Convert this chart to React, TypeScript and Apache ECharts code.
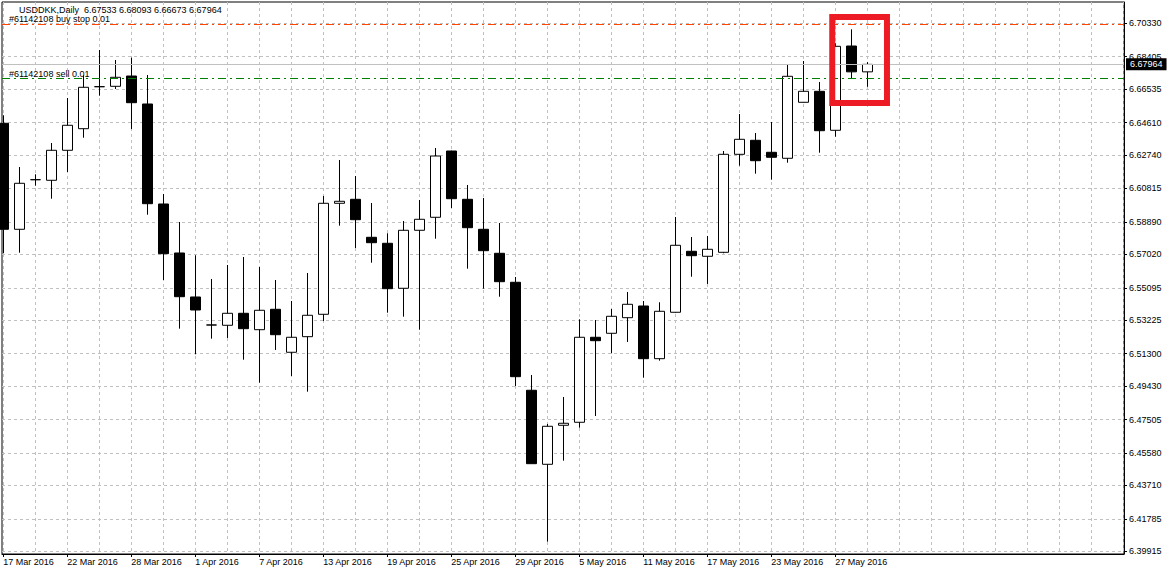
import React, { useEffect, useRef } from 'react';
import * as echarts from 'echarts';

const symbolName = 'USDDKK';
const periodName = 'Daily';

const dates = [
  '17 Mar 2016', '18 Mar 2016', '20 Mar 2016', '21 Mar 2016', '22 Mar 2016', '23 Mar 2016', '24 Mar 2016', '27 Mar 2016',
  '28 Mar 2016', '29 Mar 2016', '30 Mar 2016', '31 Mar 2016', '1 Apr 2016', '4 Apr 2016', '5 Apr 2016', '6 Apr 2016',
  '7 Apr 2016', '8 Apr 2016', '11 Apr 2016', '12 Apr 2016', '13 Apr 2016', '14 Apr 2016', '15 Apr 2016', '18 Apr 2016',
  '19 Apr 2016', '20 Apr 2016', '21 Apr 2016', '22 Apr 2016', '25 Apr 2016', '26 Apr 2016', '27 Apr 2016', '28 Apr 2016',
  '29 Apr 2016', '2 May 2016', '3 May 2016', '4 May 2016', '5 May 2016', '6 May 2016', '9 May 2016', '10 May 2016',
  '11 May 2016', '12 May 2016', '13 May 2016', '16 May 2016', '17 May 2016', '18 May 2016', '19 May 2016', '20 May 2016',
  '23 May 2016', '24 May 2016', '25 May 2016', '26 May 2016', '27 May 2016', '30 May 2016', '31 May 2016',
];

const opens = [
  6.64570, 6.58464, 6.61321, 6.61287, 6.63015, 6.64259, 6.66678, 6.66701, 6.67294, 6.65682,
  6.59922, 6.57099, 6.54565, 6.52952, 6.52935, 6.53626, 6.52681, 6.53856, 6.51380, 6.52278,
  6.53568, 6.59962, 6.60192, 6.58004, 6.57658, 6.55066, 6.58407, 6.59156, 6.62974, 6.60192,
  6.58464, 6.57082, 6.55412, 6.49191, 6.44928, 6.47175, 6.47348, 6.52244, 6.52474, 6.53372,
  6.54046, 6.51011, 6.53684, 6.57197, 6.56909, 6.57139, 6.62784, 6.63591, 6.62900, 6.62554,
  6.65780, 6.66413, 6.64167, 6.69022, 6.67533,
];
const closes = [
  6.58464, 6.61114, 6.61321, 6.63015, 6.64455, 6.66644, 6.66678, 6.67220, 6.65757, 6.59939,
  6.57059, 6.54582, 6.53816, 6.52952, 6.53626, 6.52739, 6.53799, 6.52393, 6.52244, 6.53511,
  6.59962, 6.60077, 6.59017, 6.57692, 6.55043, 6.58407, 6.59040, 6.62686, 6.60227, 6.58556,
  6.57232, 6.55446, 6.49974, 6.44963, 6.47117, 6.47290, 6.52244, 6.52048, 6.53453, 6.54144,
  6.51011, 6.53741, 6.57543, 6.56944, 6.57312, 6.62784, 6.63648, 6.62416, 6.62612, 6.67277,
  6.66413, 6.64144, 6.69005, 6.67533, 6.67964,
];
const highs = [
  6.65031, 6.62053, 6.61632, 6.63435, 6.66027, 6.67335, 6.68792, 6.68216, 6.68348, 6.67352,
  6.60498, 6.58885, 6.56967, 6.55602, 6.56408, 6.56869, 6.56293, 6.55544, 6.54334, 6.55947,
  6.60382, 6.62456, 6.61534, 6.59979, 6.58234, 6.58942, 6.60152, 6.63147, 6.62990, 6.61016,
  6.60267, 6.58827, 6.55717, 6.50072, 6.47250, 6.48805, 6.53280, 6.53240, 6.53874, 6.54853,
  6.54334, 6.54260, 6.59173, 6.58021, 6.58078, 6.62974, 6.65106, 6.64011, 6.64645, 6.67928,
  6.68158, 6.66949, 6.69178, 6.69984, 6.68093,
];
const lows = [
  6.57082, 6.57116, 6.60976, 6.60227, 6.61765, 6.63740, 6.66160, 6.66546, 6.64242, 6.59305,
  6.55544, 6.52739, 6.51264, 6.52163, 6.52203, 6.50953, 6.49628, 6.51512, 6.50014, 6.49110,
  6.53182, 6.58672, 6.57387, 6.56540, 6.53660, 6.53430, 6.52681, 6.57923, 6.59691, 6.56195,
  6.55043, 6.54582, 6.49438, 6.44950, 6.40470, 6.45136, 6.47036, 6.47710, 6.51322, 6.51973,
  6.49916, 6.50896, 6.53660, 6.55734, 6.55314, 6.57082, 6.62128, 6.61667, 6.61321, 6.62300,
  6.65760, 6.62876, 6.63798, 6.67162, 6.66673,
];

const yTicks = [
  6.70330, 6.68405, 6.66535, 6.64610, 6.62740, 6.60815, 6.58890, 6.57020, 6.55095,
  6.53225, 6.51300, 6.49430, 6.47505, 6.45580, 6.43710, 6.41785, 6.39915,
];

const orderId = '#61142108';
const buyStopPrice = 6.70300;
const buyStopText = orderId + ' buy stop 0.01';
const sellPrice = 6.67162;
const sellText = orderId + ' sell 0.01';

// highlighted region (bar index range, price range)
const highlightX = [51.81, 55.23];
const highlightY = [6.70693, 6.65739];

const X_MIN = -0.08125;
const X_MAX = 70.04375;
const Y_MIN = 6.3976;
const Y_MAX = 6.71557;
const FONT = '"Liberation Sans", Arial, sans-serif';

export default function App() {
  const ref = useRef<HTMLDivElement>(null);
  useEffect(() => {
    document.body.style.margin = '0';
    if (!ref.current) return;
    const chart = echarts.init(ref.current, null, { renderer: 'svg' });
    const last = opens.length - 1;
    const bid = closes[last];
    const title = `${symbolName},${periodName}  ${opens[last].toFixed(5)} ${highs[last].toFixed(5)} ${lows[last].toFixed(5)} ${closes[last].toFixed(5)}`;
    const labelIdx = dates.map((_, i) => i).filter((i) => i % 4 === 0);
    const gridXs: number[] = [];
    for (let i = 0; i <= 70; i += 2) gridXs.push(i);
    const candleData = opens.map((o, i) => [i, o, closes[i], lows[i], highs[i]]);
    const gridLine = { show: true, lineStyle: { color: '#c0c0c0', type: [3, 3] as any, width: 1 } };
    const orderLabel = (text: string) => ({
      show: true,
      position: 'insideStartTop',
      formatter: text,
      color: '#000',
      fontSize: 9,
      fontFamily: FONT,
      lineHeight: 9,
      distance: [7, 0],
    });

    chart.setOption({
      animation: false,
      backgroundColor: '#ffffff',
      grid: { left: 2, right: 43, top: 2, bottom: 21, show: true, borderColor: '#000', borderWidth: 1, backgroundColor: 'transparent' },
      graphic: [
        {
          type: 'text',
          x: 19,
          y: 10.2,
          z: 100,
          style: { text: title, fill: '#000', fontSize: 9, lineHeight: 9, fontFamily: FONT, verticalAlign: 'middle', align: 'left' },
        },
      ],
      xAxis: [
        {
          type: 'value',
          min: X_MIN,
          max: X_MAX,
          position: 'top',
          axisLine: { show: false },
          axisTick: { show: false, customValues: gridXs },
          axisLabel: { show: false },
          splitLine: gridLine,
        },
        {
          type: 'value',
          min: X_MIN,
          max: X_MAX,
          position: 'bottom',
          axisLine: { show: true, onZero: false, lineStyle: { color: '#000', width: 1 } },
          axisTick: { show: true, customValues: labelIdx, length: 3, lineStyle: { color: '#000' } },
          axisLabel: {
            customValues: labelIdx,
            formatter: (v: number) => dates[Math.round(v)] ?? '',
            align: 'left',
            margin: 3,
            color: '#000',
            fontSize: 9,
            fontFamily: FONT,
          },
          splitLine: { show: false },
        },
      ],
      yAxis: {
        type: 'value',
        position: 'right',
        min: Y_MIN,
        max: Y_MAX,
        axisLine: { show: true, onZero: false, lineStyle: { color: '#000', width: 1 } },
        axisTick: { show: true, customValues: yTicks, length: 3, lineStyle: { color: '#000' } },
        axisLabel: {
          customValues: yTicks,
          formatter: (v: number) => v.toFixed(5),
          margin: 5,
          color: '#000',
          fontSize: 9,
          fontFamily: FONT,
        },
        splitLine: gridLine,
      },
      series: [
        {
          type: 'candlestick',
          xAxisIndex: 0,
          yAxisIndex: 0,
          data: candleData,
          encode: { x: 0, y: [1, 2, 3, 4] },
          barWidth: 10,
          itemStyle: {
            color: '#ffffff',
            color0: '#000000',
            borderColor: '#000000',
            borderColor0: '#000000',
            borderColorDoji: '#000000',
            borderWidth: 1,
          },
          markLine: {
            silent: true,
            precision: 5,
            symbol: ['none', 'none'],
            animation: false,
            data: [
              {
                yAxis: buyStopPrice,
                lineStyle: { color: '#ff4500', type: [8, 4, 2, 4], width: 1, opacity: 1 },
                label: orderLabel(buyStopText),
              },
              {
                yAxis: sellPrice,
                lineStyle: { color: '#008000', type: [8, 4, 2, 4], width: 1, opacity: 1 },
                label: orderLabel(sellText),
              },
              {
                yAxis: bid,
                lineStyle: { color: '#c0c0c0', type: 'solid', width: 1, opacity: 1 },
                label: {
                  show: true,
                  position: 'end',
                  formatter: bid.toFixed(5),
                  color: '#fff',
                  backgroundColor: '#000',
                  padding: [2, 4, 1, 4],
                  distance: 2,
                  fontSize: 9,
                  fontFamily: FONT,
                },
              },
            ],
          },
        },
        {
          type: 'custom',
          xAxisIndex: 0,
          yAxisIndex: 0,
          z: 10,
          clip: false,
          silent: true,
          data: [[highlightX[0], highlightY[0], highlightX[1], highlightY[1]]],
          encode: { x: [0, 2], y: [1, 3] },
          renderItem: (params: any, api: any) => {
            const p1 = api.coord([api.value(0), api.value(1)]);
            const p2 = api.coord([api.value(2), api.value(3)]);
            return {
              type: 'rect',
              shape: { x: p1[0], y: p1[1], width: p2[0] - p1[0], height: p2[1] - p1[1] },
              style: { fill: 'none', stroke: '#ed1c24', lineWidth: 6 },
            };
          },
        },
      ],
    });
    return () => chart.dispose();
  }, []);
  return <div ref={ref} style={{ position: 'fixed', left: 0, top: 0, width: 1167, height: 575 }} />;
}
